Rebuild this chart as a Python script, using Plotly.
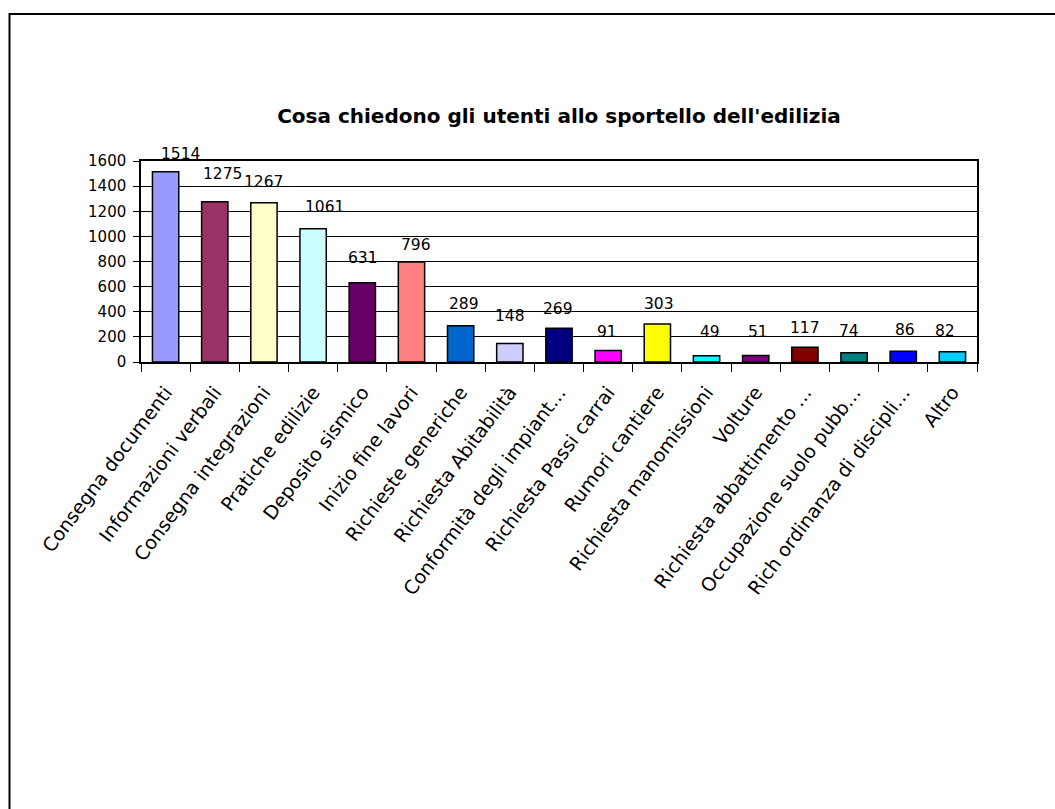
import plotly.graph_objects as go

# Requests received at the building-permits desk
categories = [
    "Consegna documenti",
    "Informazioni verbali",
    "Consegna integrazioni",
    "Pratiche edilizie",
    "Deposito sismico",
    "Inizio fine lavori",
    "Richieste generiche",
    "Richiesta Abitabilità",
    "Conformità degli impiant…",
    "Richiesta Passi carrai",
    "Rumori cantiere",
    "Richiesta manomissioni",
    "Volture",
    "Richiesta abbattimento …",
    "Occupazione suolo pubb…",
    "Rich ordinanza di discipli…",
    "Altro",
]
counts = [1514, 1275, 1267, 1061, 631, 796, 289, 148, 269, 91, 303, 49, 51, 117, 74, 86, 82]

bar_colors = [
    "#9999FF", "#993366", "#FFFFCC", "#CCFFFF", "#660066", "#FF8080",
    "#0066CC", "#CCCCFF", "#000080", "#FF00FF", "#FFFF00", "#00FFFF",
    "#800080", "#800000", "#008080", "#0000FF", "#00CCFF",
]

# pixel nudges of the value labels relative to the top of each bar
label_dx = [15, 8, 0, 11, 1, 5, 3, 0, -1, -1, 2, 3, 2, 0, -5, 2, -7]
label_dy = [18, 28, 21, 22, 25, 17, 22, 27, 19, 19, 20, 24, 24, 19, 22, 21, 21]

y_ticks = [0, 200, 400, 600, 800, 1000, 1200, 1400, 1600]

W, H = 1055, 809
L, R, T, B = 141, 78, 161, 447
FONT = "DejaVu Sans"

fig = go.Figure(
    go.Bar(
        x=categories,
        y=counts,
        marker=dict(color=bar_colors, line=dict(color="black", width=1.5)),
        hoverinfo="skip",
    )
)

for cat, val, dx, dy in zip(categories, counts, label_dx, label_dy):
    fig.add_annotation(
        x=cat, y=val, text=str(val), showarrow=False,
        xanchor="center", yanchor="middle", xshift=dx, yshift=dy,
        font=dict(family=FONT, size=15.5, color="black"),
    )

# outer frame of the chart area (left and top edges)
pw, ph = W - L - R, H - T - B
def px_x(px):
    return (px - L) / pw
def px_y(py):
    return (H - B - py) / ph

fig.add_shape(
    type="path", xref="paper", yref="paper",
    path=f"M {px_x(9.5)} {px_y(H + 5)} L {px_x(9.5)} {px_y(14)} L {px_x(W + 5)} {px_y(14)}",
    line=dict(color="black", width=2),
)

fig.update_layout(
    width=W, height=H,
    margin=dict(l=L, r=R, t=T, b=B),
    paper_bgcolor="white", plot_bgcolor="white",
    bargap=0.465,
    showlegend=False,
    title=dict(
        text="Cosa chiedono gli utenti allo sportello dell'edilizia",
        x=0.5, xref="paper", xanchor="center",
        y=1 - 116 / H, yref="container", yanchor="middle",
        font=dict(family=FONT, size=20, color="black", weight=700),
    ),
    font=dict(family=FONT, color="black"),
)

fig.update_xaxes(
    type="category",
    tickson="boundaries",
    ticks="outside", ticklen=8, tickwidth=1.3, tickcolor="black",
    showline=True, linecolor="black", linewidth=1.5, mirror=True,
    tickangle=-53,
    tickfont=dict(family=FONT, size=19, color="black"),
    ticklabelstandoff=10,
    showgrid=False,
)

fig.update_yaxes(
    range=[0, 1600],
    tickvals=y_ticks,
    ticks="outside", ticklen=6, tickwidth=1.3, tickcolor="black",
    showline=True, linecolor="black", linewidth=1.5, mirror=True,
    showgrid=True, gridcolor="black", gridwidth=1.3,
    zeroline=False,
    tickfont=dict(family=FONT, size=15, color="black"),
    ticklabelstandoff=4,
)

fig.write_html("out.html", config={"displayModeBar": False})
